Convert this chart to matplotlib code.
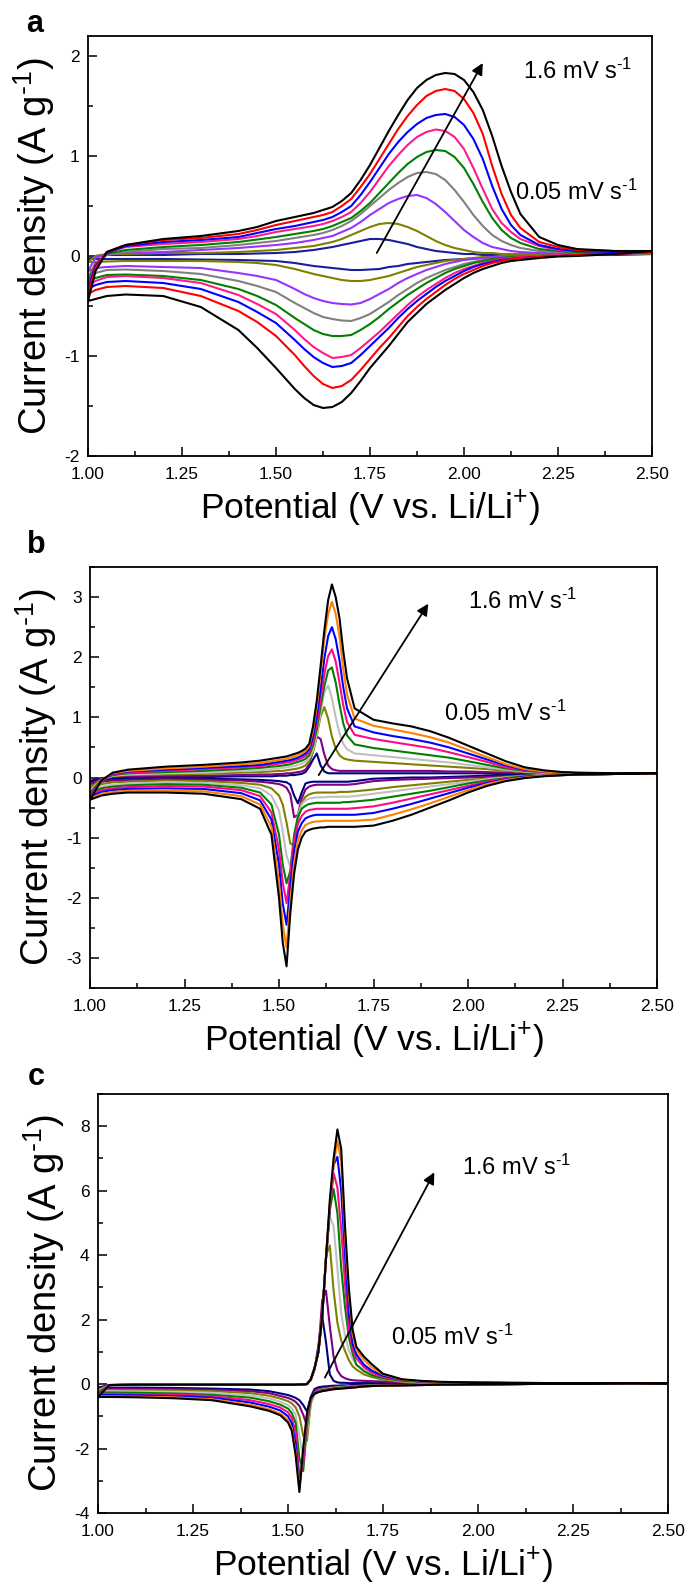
import matplotlib
matplotlib.use('Agg')
import matplotlib.pyplot as plt
from matplotlib.ticker import MultipleLocator, FormatStrFormatter

plt.rcParams['font.family'] = ['Liberation Sans', 'DejaVu Sans']
plt.rcParams['mathtext.fontset'] = 'custom'
plt.rcParams['mathtext.rm'] = 'Liberation Sans'
plt.rcParams['mathtext.it'] = 'Liberation Sans:italic'
plt.rcParams['mathtext.bf'] = 'Liberation Sans:bold'
plt.rcParams['axes.unicode_minus'] = False

# ---------------- panel a : potential grid + anodic (up) / cathodic (dn) currents
XA = [1.00, 1.02, 1.05, 1.10, 1.20, 1.30, 1.40, 1.45, 1.50, 1.55,
      1.575, 1.60, 1.625, 1.65, 1.675, 1.70, 1.725, 1.75, 1.775, 1.80,
      1.825, 1.85, 1.875, 1.90, 1.925, 1.95, 1.975, 2.00, 2.025, 2.05,
      2.075, 2.10, 2.125, 2.15, 2.20, 2.25, 2.30, 2.40, 2.50]

a_navy_up = [-0.03, 0.00, 0.01, 0.01, 0.01, 0.02, 0.02, 0.025, 0.03, 0.04,
             0.05, 0.06, 0.075, 0.09, 0.11, 0.13, 0.15, 0.17, 0.17, 0.16,
             0.14, 0.12, 0.09, 0.07, 0.05, 0.04, 0.03, 0.02, 0.02, 0.01,
             0.01, 0.01, 0.01, 0.01, 0.01, 0.01, 0.01, 0.02, 0.02]
a_olive_up = [-0.06, 0.00, 0.02, 0.02, 0.03, 0.03, 0.04, 0.05, 0.06, 0.08,
              0.09, 0.10, 0.12, 0.14, 0.17, 0.21, 0.25, 0.29, 0.32, 0.33,
              0.32, 0.29, 0.25, 0.20, 0.15, 0.11, 0.08, 0.06, 0.04, 0.03,
              0.03, 0.02, 0.02, 0.02, 0.02, 0.02, 0.02, 0.02, 0.02]
a_violet_up = [-0.15, -0.02, 0.02, 0.03, 0.04, 0.06, 0.08, 0.095, 0.11, 0.13,
               0.145, 0.16, 0.18, 0.20, 0.24, 0.28, 0.34, 0.41, 0.47, 0.53,
               0.57, 0.60, 0.61, 0.58, 0.52, 0.44, 0.35, 0.26, 0.19, 0.13,
               0.09, 0.07, 0.05, 0.04, 0.03, 0.03, 0.03, 0.03, 0.03]
a_gray_up = [-0.22, -0.07, 0.01, 0.04, 0.07, 0.08, 0.11, 0.13, 0.15, 0.18,
             0.195, 0.21, 0.23, 0.26, 0.30, 0.35, 0.42, 0.50, 0.58, 0.66,
             0.73, 0.79, 0.83, 0.84, 0.82, 0.76, 0.66, 0.54, 0.41, 0.30,
             0.21, 0.15, 0.11, 0.08, 0.05, 0.04, 0.04, 0.03, 0.03]
a_green_up = [-0.26, -0.08, 0.02, 0.06, 0.09, 0.11, 0.14, 0.165, 0.19, 0.22,
              0.235, 0.25, 0.27, 0.30, 0.34, 0.38, 0.45, 0.53, 0.63, 0.73,
              0.83, 0.92, 0.99, 1.04, 1.06, 1.05, 0.99, 0.88, 0.72, 0.54,
              0.38, 0.26, 0.18, 0.13, 0.07, 0.05, 0.04, 0.04, 0.04]
a_pink_up = [-0.30, -0.09, 0.03, 0.09, 0.12, 0.14, 0.17, 0.20, 0.24, 0.27,
             0.285, 0.30, 0.32, 0.35, 0.39, 0.44, 0.53, 0.64, 0.77, 0.90,
             1.01, 1.11, 1.19, 1.24, 1.265, 1.25, 1.19, 1.07, 0.88, 0.67,
             0.47, 0.33, 0.24, 0.17, 0.10, 0.06, 0.05, 0.04, 0.04]
a_blue_up = [-0.33, -0.10, 0.03, 0.10, 0.14, 0.16, 0.19, 0.23, 0.27, 0.30,
             0.32, 0.34, 0.36, 0.39, 0.44, 0.50, 0.61, 0.74, 0.88, 1.02,
             1.14, 1.24, 1.32, 1.38, 1.41, 1.42, 1.39, 1.31, 1.17, 0.97,
             0.70, 0.47, 0.31, 0.21, 0.11, 0.07, 0.05, 0.04, 0.04]
a_red_up = [-0.38, -0.12, 0.04, 0.11, 0.16, 0.18, 0.22, 0.26, 0.31, 0.35,
            0.37, 0.39, 0.41, 0.44, 0.50, 0.57, 0.69, 0.82, 0.97, 1.12,
            1.27, 1.40, 1.51, 1.60, 1.65, 1.67, 1.65, 1.57, 1.43, 1.22,
            0.90, 0.62, 0.41, 0.28, 0.14, 0.09, 0.06, 0.05, 0.04]
a_black_up = [-0.45, -0.15, 0.04, 0.11, 0.17, 0.20, 0.25, 0.29, 0.35, 0.39,
              0.41, 0.43, 0.46, 0.49, 0.55, 0.63, 0.76, 0.91, 1.08, 1.25,
              1.41, 1.56, 1.68, 1.76, 1.81, 1.83, 1.82, 1.76, 1.64, 1.46,
              1.20, 0.90, 0.64, 0.42, 0.19, 0.11, 0.07, 0.05, 0.05]

a_navy_dn = [-0.03, -0.03, -0.03, -0.03, -0.03, -0.035, -0.04, -0.045, -0.05, -0.07,
             -0.085, -0.10, -0.11, -0.12, -0.13, -0.14, -0.14, -0.135, -0.13, -0.11,
             -0.10, -0.08, -0.07, -0.06, -0.05, -0.04, -0.035, -0.03, -0.025, -0.02,
             -0.015, -0.01, -0.005, 0.00, 0.00, 0.01, 0.01, 0.01, 0.02]
a_olive_dn = [-0.06, -0.06, -0.055, -0.05, -0.05, -0.05, -0.06, -0.07, -0.09, -0.13,
              -0.155, -0.18, -0.20, -0.22, -0.24, -0.25, -0.25, -0.24, -0.22, -0.20,
              -0.17, -0.14, -0.11, -0.09, -0.07, -0.05, -0.04, -0.03, -0.02, -0.01,
              -0.01, 0.00, 0.00, 0.00, 0.01, 0.01, 0.01, 0.02, 0.02]
a_violet_dn = [-0.15, -0.12, -0.11, -0.10, -0.11, -0.12, -0.17, -0.20, -0.24, -0.33,
               -0.38, -0.42, -0.45, -0.47, -0.48, -0.485, -0.47, -0.43, -0.38, -0.33,
               -0.27, -0.22, -0.18, -0.14, -0.11, -0.08, -0.06, -0.04, -0.03, -0.02,
               -0.01, -0.01, 0.00, 0.00, 0.00, 0.01, 0.01, 0.02, 0.03]
a_gray_dn = [-0.22, -0.17, -0.14, -0.135, -0.15, -0.18, -0.25, -0.30, -0.36, -0.47,
             -0.52, -0.57, -0.61, -0.63, -0.645, -0.65, -0.62, -0.58, -0.52, -0.46,
             -0.39, -0.33, -0.27, -0.22, -0.18, -0.14, -0.11, -0.08, -0.06, -0.04,
             -0.03, -0.02, -0.01, -0.01, 0.00, 0.01, 0.01, 0.02, 0.03]
a_green_dn = [-0.26, -0.22, -0.19, -0.185, -0.20, -0.24, -0.33, -0.40, -0.49, -0.62,
              -0.68, -0.74, -0.78, -0.80, -0.80, -0.79, -0.74, -0.68, -0.61, -0.53,
              -0.46, -0.39, -0.33, -0.27, -0.22, -0.17, -0.13, -0.10, -0.07, -0.05,
              -0.03, -0.02, -0.01, -0.01, 0.00, 0.01, 0.01, 0.02, 0.04]
a_pink_dn = [-0.30, -0.25, -0.21, -0.20, -0.22, -0.27, -0.39, -0.48, -0.58, -0.74,
             -0.83, -0.91, -0.97, -1.02, -1.01, -0.99, -0.92, -0.84, -0.76, -0.67,
             -0.58, -0.49, -0.41, -0.34, -0.28, -0.22, -0.17, -0.13, -0.10, -0.07,
             -0.05, -0.03, -0.02, -0.01, 0.00, 0.01, 0.01, 0.02, 0.04]
a_blue_dn = [-0.33, -0.29, -0.26, -0.25, -0.27, -0.33, -0.46, -0.56, -0.67, -0.84,
             -0.93, -1.01, -1.07, -1.11, -1.10, -1.07, -0.99, -0.90, -0.81, -0.72,
             -0.62, -0.53, -0.45, -0.38, -0.31, -0.25, -0.20, -0.15, -0.11, -0.08,
             -0.06, -0.04, -0.03, -0.02, -0.01, 0.00, 0.01, 0.02, 0.04]
a_red_dn = [-0.38, -0.34, -0.31, -0.30, -0.32, -0.40, -0.55, -0.66, -0.80, -0.99,
            -1.10, -1.20, -1.28, -1.32, -1.30, -1.24, -1.14, -1.03, -0.92, -0.82,
            -0.71, -0.60, -0.51, -0.43, -0.36, -0.29, -0.23, -0.18, -0.14, -0.10,
            -0.07, -0.05, -0.03, -0.02, -0.01, 0.00, 0.01, 0.02, 0.04]
a_black_dn = [-0.45, -0.43, -0.40, -0.385, -0.40, -0.51, -0.74, -0.92, -1.12, -1.33,
              -1.42, -1.49, -1.52, -1.51, -1.46, -1.37, -1.25, -1.12, -1.01, -0.90,
              -0.78, -0.66, -0.57, -0.48, -0.41, -0.34, -0.28, -0.22, -0.17, -0.13,
              -0.10, -0.07, -0.05, -0.04, -0.02, -0.005, 0.00, 0.02, 0.05]

# ---------------- panel b
XB = [1.00, 1.03, 1.06, 1.10, 1.20, 1.30, 1.40, 1.45, 1.48, 1.50,
      1.51, 1.52, 1.53, 1.54, 1.55, 1.56, 1.57, 1.58, 1.59, 1.60,
      1.61, 1.62, 1.63, 1.64, 1.65, 1.66, 1.67, 1.68, 1.70, 1.75,
      1.80, 1.85, 1.90, 1.95, 2.00, 2.05, 2.10, 2.15, 2.20, 2.25,
      2.30, 2.40, 2.50]

b_navy_up = [-0.06, -0.01, 0.00, 0.01, 0.01, 0.01, 0.02, 0.02, 0.02, 0.03,
             0.03, 0.03, 0.04, 0.04, 0.05, 0.06, 0.09, 0.18, 0.30, 0.40,
             0.20, 0.10, 0.07, 0.07, 0.07, 0.07, 0.07, 0.07, 0.07, 0.07,
             0.07, 0.07, 0.07, 0.07, 0.07, 0.07, 0.07, 0.07, 0.07, 0.07,
             0.07, 0.07, 0.07]
b_purple_up = [-0.11, -0.02, 0.01, 0.02, 0.03, 0.03, 0.04, 0.05, 0.05, 0.06,
               0.06, 0.07, 0.07, 0.08, 0.09, 0.10, 0.13, 0.22, 0.45, 0.68,
               0.64, 0.38, 0.20, 0.14, 0.12, 0.11, 0.11, 0.11, 0.11, 0.11,
               0.11, 0.11, 0.11, 0.10, 0.10, 0.09, 0.08, 0.08, 0.07, 0.07,
               0.07, 0.07, 0.07]
b_olive_up = [-0.17, -0.03, 0.02, 0.04, 0.05, 0.06, 0.08, 0.09, 0.10, 0.11,
              0.11, 0.12, 0.13, 0.14, 0.15, 0.17, 0.20, 0.27, 0.42, 0.70,
              1.02, 1.17, 0.98, 0.68, 0.48, 0.37, 0.32, 0.30, 0.28, 0.26,
              0.24, 0.22, 0.20, 0.18, 0.16, 0.14, 0.11, 0.09, 0.08, 0.07,
              0.07, 0.07, 0.07]
b_lgray_up = [-0.22, -0.04, 0.03, 0.05, 0.07, 0.08, 0.11, 0.12, 0.14, 0.15,
              0.16, 0.17, 0.18, 0.19, 0.21, 0.23, 0.26, 0.32, 0.46, 0.72,
              1.08, 1.42, 1.53, 1.32, 1.00, 0.74, 0.56, 0.47, 0.40, 0.37,
              0.34, 0.31, 0.28, 0.25, 0.21, 0.17, 0.13, 0.10, 0.08, 0.08,
              0.07, 0.07, 0.07]
b_green_up = [-0.26, -0.04, 0.04, 0.07, 0.09, 0.11, 0.14, 0.16, 0.18, 0.19,
              0.20, 0.21, 0.22, 0.24, 0.26, 0.28, 0.31, 0.37, 0.53, 0.80,
              1.18, 1.52, 1.78, 1.83, 1.58, 1.22, 0.90, 0.70, 0.55, 0.49,
              0.45, 0.41, 0.37, 0.33, 0.27, 0.21, 0.15, 0.11, 0.09, 0.08,
              0.07, 0.07, 0.07]
b_pink_up = [-0.29, -0.05, 0.05, 0.08, 0.11, 0.14, 0.17, 0.19, 0.21, 0.23,
             0.24, 0.25, 0.26, 0.28, 0.30, 0.32, 0.36, 0.42, 0.60, 0.90,
             1.30, 1.72, 2.02, 2.13, 1.93, 1.58, 1.20, 0.92, 0.71, 0.64,
             0.59, 0.54, 0.49, 0.42, 0.34, 0.26, 0.17, 0.12, 0.09, 0.08,
             0.07, 0.07, 0.07]
b_blue_up = [-0.32, -0.05, 0.06, 0.10, 0.13, 0.16, 0.19, 0.21, 0.24, 0.26,
             0.27, 0.28, 0.29, 0.31, 0.33, 0.36, 0.40, 0.47, 0.68, 1.02,
             1.48, 1.98, 2.35, 2.50, 2.30, 1.95, 1.50, 1.15, 0.85, 0.75,
             0.69, 0.64, 0.58, 0.50, 0.40, 0.30, 0.20, 0.13, 0.10, 0.08,
             0.07, 0.07, 0.07]
b_orange_up = [-0.35, -0.05, 0.07, 0.11, 0.15, 0.18, 0.22, 0.24, 0.27, 0.29,
               0.30, 0.31, 0.33, 0.35, 0.37, 0.40, 0.44, 0.52, 0.78, 1.18,
               1.72, 2.30, 2.72, 2.92, 2.72, 2.35, 1.80, 1.38, 0.98, 0.86,
               0.80, 0.74, 0.67, 0.58, 0.46, 0.34, 0.22, 0.14, 0.10, 0.08,
               0.07, 0.07, 0.07]
b_black_up = [-0.37, -0.05, 0.08, 0.13, 0.18, 0.21, 0.25, 0.28, 0.31, 0.33,
              0.34, 0.35, 0.37, 0.39, 0.41, 0.44, 0.48, 0.56, 0.85, 1.28,
              1.85, 2.45, 2.95, 3.21, 3.00, 2.65, 2.10, 1.65, 1.15, 0.96,
              0.90, 0.85, 0.77, 0.66, 0.53, 0.40, 0.27, 0.17, 0.12, 0.09,
              0.08, 0.07, 0.07]

b_navy_dn = [-0.06, -0.04, -0.03, -0.02, -0.02, -0.02, -0.03, -0.04, -0.05, -0.06,
             -0.07, -0.08, -0.12, -0.30, -0.43, -0.25, -0.10, -0.08, -0.07, -0.07,
             -0.07, -0.07, -0.07, -0.07, -0.07, -0.07, -0.07, -0.07, -0.06, -0.02,
             -0.01, 0.00, 0.00, 0.01, 0.02, 0.03, 0.04, 0.05, 0.05, 0.06,
             0.06, 0.07, 0.07]
b_purple_dn = [-0.11, -0.07, -0.05, -0.04, -0.03, -0.04, -0.05, -0.07, -0.09, -0.11,
               -0.13, -0.17, -0.28, -0.66, -0.62, -0.35, -0.20, -0.15, -0.13, -0.12,
               -0.12, -0.12, -0.12, -0.12, -0.12, -0.12, -0.12, -0.12, -0.11, -0.06,
               -0.04, -0.03, -0.02, -0.01, 0.00, 0.01, 0.02, 0.03, 0.04, 0.05,
               0.05, 0.06, 0.07]
b_olive_dn = [-0.17, -0.11, -0.08, -0.07, -0.05, -0.06, -0.09, -0.12, -0.18, -0.30,
              -0.45, -0.75, -1.10, -1.12, -0.70, -0.42, -0.32, -0.28, -0.26, -0.25,
              -0.25, -0.25, -0.25, -0.25, -0.25, -0.24, -0.24, -0.24, -0.23, -0.20,
              -0.16, -0.13, -0.10, -0.07, -0.04, -0.02, 0.01, 0.03, 0.04, 0.05,
              0.05, 0.06, 0.07]
b_lgray_dn = [-0.22, -0.15, -0.12, -0.10, -0.08, -0.09, -0.13, -0.18, -0.30, -0.55,
              -0.90, -1.30, -1.48, -1.05, -0.62, -0.45, -0.38, -0.35, -0.34, -0.33,
              -0.33, -0.33, -0.32, -0.32, -0.32, -0.32, -0.32, -0.32, -0.31, -0.27,
              -0.23, -0.19, -0.15, -0.11, -0.07, -0.03, 0.00, 0.02, 0.04, 0.05,
              0.05, 0.06, 0.07]
b_green_dn = [-0.26, -0.18, -0.15, -0.13, -0.11, -0.12, -0.17, -0.25, -0.45, -0.95,
              -1.45, -1.76, -1.55, -0.95, -0.65, -0.52, -0.47, -0.44, -0.43, -0.42,
              -0.42, -0.42, -0.42, -0.42, -0.42, -0.42, -0.41, -0.41, -0.40, -0.37,
              -0.32, -0.27, -0.22, -0.16, -0.10, -0.05, -0.01, 0.02, 0.03, 0.04,
              0.05, 0.06, 0.07]
b_pink_dn = [-0.29, -0.21, -0.18, -0.16, -0.14, -0.15, -0.21, -0.31, -0.58, -1.20,
             -1.75, -2.09, -1.60, -1.05, -0.77, -0.64, -0.57, -0.54, -0.53, -0.52,
             -0.52, -0.52, -0.52, -0.52, -0.52, -0.52, -0.52, -0.52, -0.51, -0.48,
             -0.42, -0.35, -0.28, -0.21, -0.14, -0.07, -0.02, 0.01, 0.03, 0.04,
             0.05, 0.06, 0.07]
b_blue_dn = [-0.32, -0.24, -0.21, -0.19, -0.18, -0.19, -0.26, -0.38, -0.70, -1.45,
             -2.10, -2.45, -1.80, -1.22, -0.90, -0.76, -0.68, -0.65, -0.63, -0.62,
             -0.62, -0.62, -0.62, -0.62, -0.62, -0.62, -0.62, -0.62, -0.62, -0.59,
             -0.52, -0.44, -0.35, -0.26, -0.17, -0.09, -0.03, 0.01, 0.03, 0.04,
             0.05, 0.06, 0.07]
b_orange_dn = [-0.35, -0.27, -0.24, -0.22, -0.22, -0.23, -0.31, -0.45, -0.82, -1.75,
               -2.45, -2.83, -2.05, -1.42, -1.05, -0.88, -0.79, -0.76, -0.74, -0.73,
               -0.73, -0.72, -0.72, -0.72, -0.72, -0.72, -0.72, -0.72, -0.72, -0.70,
               -0.62, -0.53, -0.43, -0.32, -0.21, -0.11, -0.04, 0.00, 0.03, 0.04,
               0.05, 0.06, 0.07]
b_black_dn = [-0.37, -0.30, -0.27, -0.25, -0.25, -0.27, -0.36, -0.52, -0.95, -2.00,
              -2.75, -3.14, -2.25, -1.60, -1.20, -1.00, -0.90, -0.87, -0.85, -0.84,
              -0.83, -0.83, -0.82, -0.82, -0.82, -0.82, -0.82, -0.82, -0.82, -0.80,
              -0.72, -0.62, -0.50, -0.38, -0.25, -0.14, -0.06, -0.01, 0.02, 0.04,
              0.05, 0.06, 0.07]

# ---------------- panel c
XC = [1.00, 1.03, 1.10, 1.20, 1.30, 1.40, 1.45, 1.48, 1.50, 1.51,
      1.52, 1.53, 1.54, 1.55, 1.56, 1.57, 1.58, 1.59, 1.60, 1.61,
      1.62, 1.63, 1.64, 1.65, 1.66, 1.67, 1.68, 1.70, 1.72, 1.75,
      1.80, 1.85, 1.90, 2.00, 2.10, 2.20, 2.30, 2.40, 2.50]

c_navy_up = [-0.11, -0.03, -0.02, -0.02, -0.02, -0.02, -0.02, -0.02, -0.02, -0.02,
             -0.02, -0.01, -0.01, 0.00, 0.12, 0.45, 1.20, 2.10, 1.30, 0.30,
             0.10, 0.05, 0.04, 0.04, 0.03, 0.03, 0.03, 0.03, 0.03, 0.03,
             0.03, 0.03, 0.03, 0.02, 0.02, 0.02, 0.02, 0.02, 0.02]
c_purple_up = [-0.15, -0.03, -0.02, -0.02, -0.02, -0.02, -0.02, -0.02, -0.02, -0.02,
               -0.02, -0.01, -0.01, 0.00, 0.15, 0.50, 1.00, 2.60, 2.90, 1.80,
               0.85, 0.42, 0.25, 0.18, 0.14, 0.12, 0.11, 0.10, 0.09, 0.08,
               0.06, 0.05, 0.04, 0.03, 0.03, 0.02, 0.02, 0.02, 0.02]
c_olive_up = [-0.19, -0.03, -0.02, -0.02, -0.02, -0.02, -0.02, -0.02, -0.02, -0.02,
              -0.02, -0.01, -0.01, 0.00, 0.15, 0.50, 1.00, 2.10, 4.00, 4.30,
              2.90, 1.90, 1.35, 1.03, 0.75, 0.55, 0.45, 0.30, 0.22, 0.14,
              0.07, 0.05, 0.04, 0.03, 0.03, 0.02, 0.02, 0.02, 0.02]
c_lgray_up = [-0.22, -0.03, -0.02, -0.02, -0.02, -0.02, -0.02, -0.02, -0.02, -0.02,
              -0.02, -0.01, -0.01, 0.00, 0.15, 0.50, 1.00, 2.10, 3.85, 5.20,
              4.90, 3.60, 2.20, 1.50, 1.05, 0.78, 0.60, 0.42, 0.30, 0.17,
              0.09, 0.06, 0.05, 0.04, 0.03, 0.03, 0.02, 0.02, 0.02]
c_green_up = [-0.26, -0.03, -0.02, -0.02, -0.02, -0.02, -0.02, -0.02, -0.02, -0.02,
              -0.02, -0.01, -0.01, 0.00, 0.15, 0.50, 1.00, 2.10, 3.90, 5.40,
              6.05, 5.30, 3.60, 2.40, 1.45, 0.95, 0.60, 0.40, 0.28, 0.18,
              0.10, 0.07, 0.05, 0.04, 0.03, 0.03, 0.02, 0.02, 0.02]
c_pink_up = [-0.30, -0.03, -0.02, -0.02, -0.02, -0.02, -0.02, -0.02, -0.02, -0.02,
             -0.02, -0.01, -0.01, 0.00, 0.15, 0.50, 1.00, 2.10, 3.90, 5.40,
             6.55, 6.10, 4.80, 3.10, 1.75, 1.10, 0.80, 0.52, 0.36, 0.22,
             0.12, 0.08, 0.05, 0.04, 0.03, 0.03, 0.02, 0.02, 0.02]
c_blue_up = [-0.34, -0.03, -0.02, -0.02, -0.02, -0.02, -0.02, -0.02, -0.02, -0.02,
             -0.02, -0.01, -0.01, 0.00, 0.15, 0.50, 1.00, 2.10, 3.90, 5.50,
             6.80, 7.05, 6.00, 4.00, 2.20, 1.25, 0.92, 0.60, 0.42, 0.26,
             0.13, 0.08, 0.06, 0.04, 0.03, 0.03, 0.03, 0.02, 0.02]
c_orange_up = [-0.38, -0.03, -0.02, -0.02, -0.02, -0.02, -0.02, -0.02, -0.02, -0.02,
               -0.02, -0.01, -0.01, 0.00, 0.15, 0.50, 1.00, 2.10, 3.90, 5.60,
               6.80, 7.55, 6.90, 4.60, 2.80, 1.55, 1.05, 0.75, 0.52, 0.30,
               0.14, 0.09, 0.06, 0.05, 0.04, 0.03, 0.03, 0.03, 0.02]
c_black_up = [-0.40, -0.03, -0.02, -0.02, -0.02, -0.02, -0.02, -0.02, -0.02, -0.02,
              -0.02, -0.01, -0.01, 0.00, 0.15, 0.50, 1.00, 2.10, 3.90, 5.70,
              7.00, 7.90, 7.30, 4.90, 3.00, 1.70, 1.15, 0.85, 0.62, 0.32,
              0.15, 0.10, 0.07, 0.05, 0.04, 0.03, 0.03, 0.03, 0.02]

c_navy_dn = [-0.11, -0.11, -0.11, -0.12, -0.14, -0.17, -0.22, -0.29, -0.34, -0.38,
             -0.43, -0.50, -0.65, -0.85, -0.40, -0.15, -0.10, -0.08, -0.07, -0.06,
             -0.05, -0.05, -0.04, -0.04, -0.04, -0.03, -0.03, -0.03, -0.02, -0.02,
             -0.02, -0.01, -0.01, -0.01, 0.00, 0.01, 0.01, 0.02, 0.02]
c_purple_dn = [-0.15, -0.15, -0.15, -0.16, -0.18, -0.22, -0.28, -0.37, -0.43, -0.48,
               -0.55, -0.68, -0.95, -1.30, -0.55, -0.22, -0.16, -0.13, -0.12, -0.10,
               -0.09, -0.08, -0.07, -0.07, -0.06, -0.06, -0.05, -0.04, -0.04, -0.03,
               -0.02, -0.02, -0.01, -0.01, 0.00, 0.01, 0.01, 0.02, 0.02]
c_olive_dn = [-0.19, -0.19, -0.19, -0.20, -0.22, -0.28, -0.36, -0.45, -0.53, -0.60,
              -0.72, -1.00, -1.60, -1.75, -0.60, -0.28, -0.19, -0.16, -0.14, -0.12,
              -0.11, -0.10, -0.09, -0.08, -0.07, -0.07, -0.06, -0.05, -0.04, -0.03,
              -0.03, -0.02, -0.01, -0.01, 0.00, 0.01, 0.01, 0.02, 0.02]
c_lgray_dn = [-0.22, -0.22, -0.23, -0.24, -0.27, -0.35, -0.44, -0.55, -0.65, -0.75,
              -0.95, -1.60, -2.30, -1.50, -0.55, -0.30, -0.21, -0.18, -0.16, -0.14,
              -0.12, -0.11, -0.10, -0.09, -0.08, -0.08, -0.07, -0.06, -0.05, -0.04,
              -0.03, -0.02, -0.02, -0.01, 0.00, 0.01, 0.01, 0.02, 0.02]
c_green_dn = [-0.26, -0.26, -0.27, -0.29, -0.33, -0.42, -0.53, -0.64, -0.76, -0.90,
              -1.20, -2.30, -2.70, -1.30, -0.50, -0.30, -0.22, -0.19, -0.17, -0.15,
              -0.13, -0.12, -0.11, -0.10, -0.09, -0.08, -0.08, -0.06, -0.05, -0.04,
              -0.03, -0.02, -0.02, -0.01, 0.00, 0.01, 0.01, 0.02, 0.02]
c_pink_dn = [-0.30, -0.30, -0.31, -0.33, -0.37, -0.50, -0.62, -0.73, -0.88, -1.05,
             -1.50, -2.85, -2.50, -1.10, -0.48, -0.30, -0.23, -0.20, -0.18, -0.16,
             -0.14, -0.13, -0.12, -0.11, -0.10, -0.09, -0.08, -0.07, -0.06, -0.05,
             -0.04, -0.03, -0.02, -0.01, 0.00, 0.01, 0.01, 0.02, 0.02]
c_blue_dn = [-0.34, -0.34, -0.35, -0.37, -0.42, -0.57, -0.70, -0.82, -1.00, -1.22,
             -1.85, -3.15, -2.20, -1.00, -0.45, -0.30, -0.24, -0.21, -0.19, -0.17,
             -0.15, -0.14, -0.13, -0.12, -0.11, -0.10, -0.09, -0.07, -0.06, -0.05,
             -0.04, -0.03, -0.02, -0.01, 0.00, 0.01, 0.01, 0.02, 0.02]
c_orange_dn = [-0.38, -0.38, -0.39, -0.41, -0.47, -0.64, -0.78, -0.92, -1.12, -1.38,
               -2.10, -3.25, -2.10, -0.95, -0.44, -0.31, -0.25, -0.22, -0.20, -0.18,
               -0.16, -0.15, -0.14, -0.13, -0.12, -0.11, -0.10, -0.07, -0.06, -0.05,
               -0.04, -0.03, -0.02, -0.01, 0.00, 0.01, 0.01, 0.02, 0.02]
c_black_dn = [-0.40, -0.40, -0.41, -0.44, -0.50, -0.69, -0.83, -0.97, -1.19, -1.45,
              -2.20, -3.35, -2.00, -0.90, -0.42, -0.30, -0.25, -0.22, -0.20, -0.18,
              -0.16, -0.15, -0.14, -0.13, -0.12, -0.11, -0.10, -0.07, -0.06, -0.05,
              -0.04, -0.03, -0.02, -0.01, 0.00, 0.01, 0.01, 0.02, 0.02]

# colours, slowest scan (0.05 mV/s) first, 1.6 mV/s last
COLORS_A = ['#1c1c9e', '#808000', '#9933ff', '#808080', '#008000',
            '#ff1a8c', '#0000ff', '#ff0000', '#000000']
COLORS_BC = ['#000080', '#800080', '#808000', '#c0c0c0', '#008000',
             '#ff0a84', '#0000ff', '#ff8000', '#000000']

curves_a = [(a_navy_up, a_navy_dn), (a_olive_up, a_olive_dn), (a_violet_up, a_violet_dn),
            (a_gray_up, a_gray_dn), (a_green_up, a_green_dn), (a_pink_up, a_pink_dn),
            (a_blue_up, a_blue_dn), (a_red_up, a_red_dn), (a_black_up, a_black_dn)]
curves_b = [(b_navy_up, b_navy_dn), (b_purple_up, b_purple_dn), (b_olive_up, b_olive_dn),
            (b_lgray_up, b_lgray_dn), (b_green_up, b_green_dn), (b_pink_up, b_pink_dn),
            (b_blue_up, b_blue_dn), (b_orange_up, b_orange_dn), (b_black_up, b_black_dn)]
curves_c = [(c_navy_up, c_navy_dn), (c_purple_up, c_purple_dn), (c_olive_up, c_olive_dn),
            (c_lgray_up, c_lgray_dn), (c_green_up, c_green_dn), (c_pink_up, c_pink_dn),
            (c_blue_up, c_blue_dn), (c_orange_up, c_orange_dn), (c_black_up, c_black_dn)]

W, H = 688, 1593
fig = plt.figure(figsize=(W / 100, H / 100), dpi=100)

RATE_HI = '1.6 mV s$^{\\text{-}1}$'
RATE_LO = '0.05 mV s$^{\\text{-}1}$'


def px_axes(left, top, right, bottom):
    return fig.add_axes([left / W, 1 - bottom / H, (right - left) / W, (bottom - top) / H])


def draw_panel(ax, X, curves, colors, ylim, ymaj, ymin_, arrow, txt_hi, txt_lo):
    for (up, dn), col in zip(curves, colors):
        xs = list(X) + list(X[::-1])
        ys = list(up) + list(dn[::-1])
        ax.plot(xs, ys, color=col, lw=1.5, solid_joinstyle='round')
    ax.set_xlim(1.0, 2.5)
    ax.set_ylim(*ylim)
    ax.xaxis.set_major_locator(MultipleLocator(0.25))
    ax.xaxis.set_minor_locator(MultipleLocator(0.125))
    ax.xaxis.set_major_formatter(FormatStrFormatter('%.2f'))
    ax.yaxis.set_major_locator(MultipleLocator(ymaj))
    ax.yaxis.set_minor_locator(MultipleLocator(ymin_))
    ax.yaxis.set_major_formatter(FormatStrFormatter('%d'))
    ax.tick_params(which='both', direction='in', top=False, right=False, width=1.1)
    ax.tick_params(which='major', length=6.5, labelsize=12.5)
    ax.tick_params(which='minor', length=3.3)
    ax.tick_params(axis='x', pad=8)
    ax.tick_params(axis='y', pad=6)
    for s in ax.spines.values():
        s.set_linewidth(1.3)
    ax.set_xlabel('Potential (V vs. Li/Li$^{+}$)', fontsize=25.5)
    ax.set_ylabel('Current density (A g$^{\\text{-}1}$)', fontsize=27.5)
    ax.xaxis.set_label_coords(0.5, -0.125)
    ax.xaxis.label.set_va('center')
    ax.yaxis.set_label_coords(-0.095, 0.5)
    ax.yaxis.label.set_va('center')
    ax.annotate('', xy=arrow[1], xytext=arrow[0],
                arrowprops=dict(arrowstyle='-|>', color='black', lw=1.3,
                                mutation_scale=17, shrinkA=0, shrinkB=0))
    ax.text(txt_hi[0], txt_hi[1], RATE_HI, fontsize=17, ha='left', va='center')
    ax.text(txt_lo[0], txt_lo[1], RATE_LO, fontsize=17, ha='left', va='center')


ax_a = px_axes(88, 36, 652, 456)
draw_panel(ax_a, XA, curves_a, COLORS_A, (-2, 2.2), 1, 0.5,
           ((1.768, 0.03), (2.05, 1.93)), (2.158, 1.85), (2.136, 0.64))

ax_b = px_axes(90, 567, 657, 988)
draw_panel(ax_b, XB, curves_b, COLORS_BC, (-3.5, 3.5), 1, 0.5,
           ((1.605, 0.04), (1.895, 2.89)), (2.0, 2.93), (1.937, 1.07))

ax_c = px_axes(98, 1094, 668, 1513)
draw_panel(ax_c, XC, curves_c, COLORS_BC, (-4, 9), 2, 1,
           ((1.597, 0.2), (1.885, 6.57)), (1.957, 6.73), (1.77, 1.45))

# panel letters
for letter, bx, by in [('a', 35, 32), ('b', 36, 553), ('c', 36, 1085)]:
    fig.text(bx / W, 1 - by / H, letter, fontsize=22, fontweight='bold',
             ha='center', va='baseline')

fig.savefig('out.png', dpi=100)
